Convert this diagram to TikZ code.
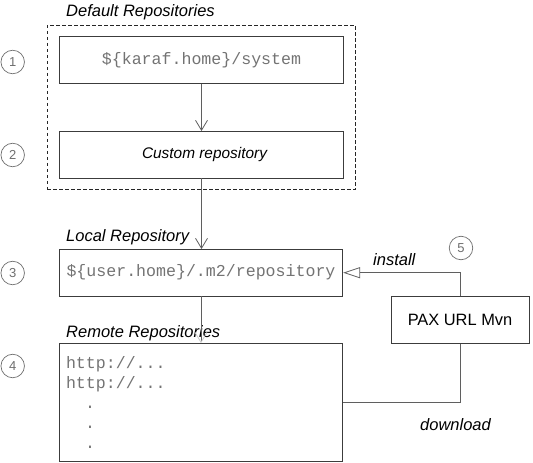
\documentclass[tikz,border=0pt]{standalone}
\usepackage{fontspec}
\setmainfont{Liberation Sans}
\setmonofont{Liberation Mono}
\usetikzlibrary{arrows.meta,fit}
\definecolor{lineGray}{RGB}{95,95,95}
\definecolor{edgeGray}{RGB}{60,60,60}
\definecolor{codeGray}{RGB}{115,115,115}
\definecolor{markGray}{RGB}{110,110,110}
\tikzset{
  repoBox/.style={draw=edgeGray,line width=0.8pt,minimum width=283.5pt,minimum height=46.5pt,inner sep=0pt,
    font=\fontsize{16.6}{20}\selectfont\ttfamily\color{codeGray}},
  groupLabel/.style={anchor=west,inner sep=0pt,font=\fontsize{16.5}{18}\selectfont\itshape},
  stepMark/.style={circle,draw=markGray,line width=0.7pt,minimum size=23.5pt,inner sep=0pt,
    font=\fontsize{13}{14}\selectfont\color{markGray}},
  flow/.style={draw=lineGray,line width=0.8pt},
  barb/.style={-{Straight Barb[length=10pt,width=12pt]}},
}
\newcommand{\StepMark}[3]{\node[stepMark] (mark#3) at (#1,#2) {#3};}

\begin{document}
\begin{tikzpicture}[x=1pt,y=-1pt]
\useasboundingbox (0,0) rectangle (533,463);
% repositories
\node[repoBox] (sysRepo) at (201.5,60) {\$\{karaf.home\}/system};
\node[repoBox,font=\fontsize{15.4}{18}\selectfont\itshape,text=black] (customRepo) at (201.5,154.7) {\hspace*{6pt}Custom repository};
\node[repoBox] (localRepo) at (201,272.7) {\$\{user.home\}/.m2/repository};
\node[repoBox,minimum height=118pt,text width=270pt,align=left] (remoteRepo) at (201,402.5) {%
http://...\\http://...\\\hspace*{19pt}.\\\hspace*{19pt}.\\\hspace*{19pt}.};
\node[repoBox,minimum width=138pt,font=\fontsize{16.4}{18}\selectfont,text=black] (paxMvn) at (460,320) {PAX URL Mvn};
% default group
\node[draw=black!85,dash pattern=on 3.5pt off 2.5pt,line width=0.8pt,inner xsep=12pt,inner ysep=11pt,fit=(sysRepo)(customRepo)] (defaultGroup) {};
\node[groupLabel] (defaultLabel) at (66,12) {Default Repositories};
\node[groupLabel] (localLabel) at (66,237) {Local Repository};
\node[groupLabel] (remoteLabel) at (66,333) {Remote Repositories};
\node[groupLabel] (installLabel) at (373,260) {install};
\node[groupLabel] (downloadLabel) at (420,425) {download};
% numbers
\StepMark{12.7}{62}{1}
\StepMark{12.7}{155}{2}
\StepMark{12.7}{273}{3}
\StepMark{12.7}{366}{4}
\StepMark{461}{248}{5}
% connectors
\draw[flow,barb] (sysRepo) -- (customRepo);
\draw[flow,barb] (customRepo.south) -- (customRepo.south |- localRepo.north);
\draw[flow,-{Straight Barb[length=10pt,width=12pt,color=gray!40]}] (localRepo) -- (remoteRepo);
\draw[flow,-{Triangle[open,length=17pt,width=11pt,fill=white]}] (paxMvn.north) |- (localRepo.east);
\draw[flow] (paxMvn.south) |- (remoteRepo.east);
\end{tikzpicture}
\end{document}
